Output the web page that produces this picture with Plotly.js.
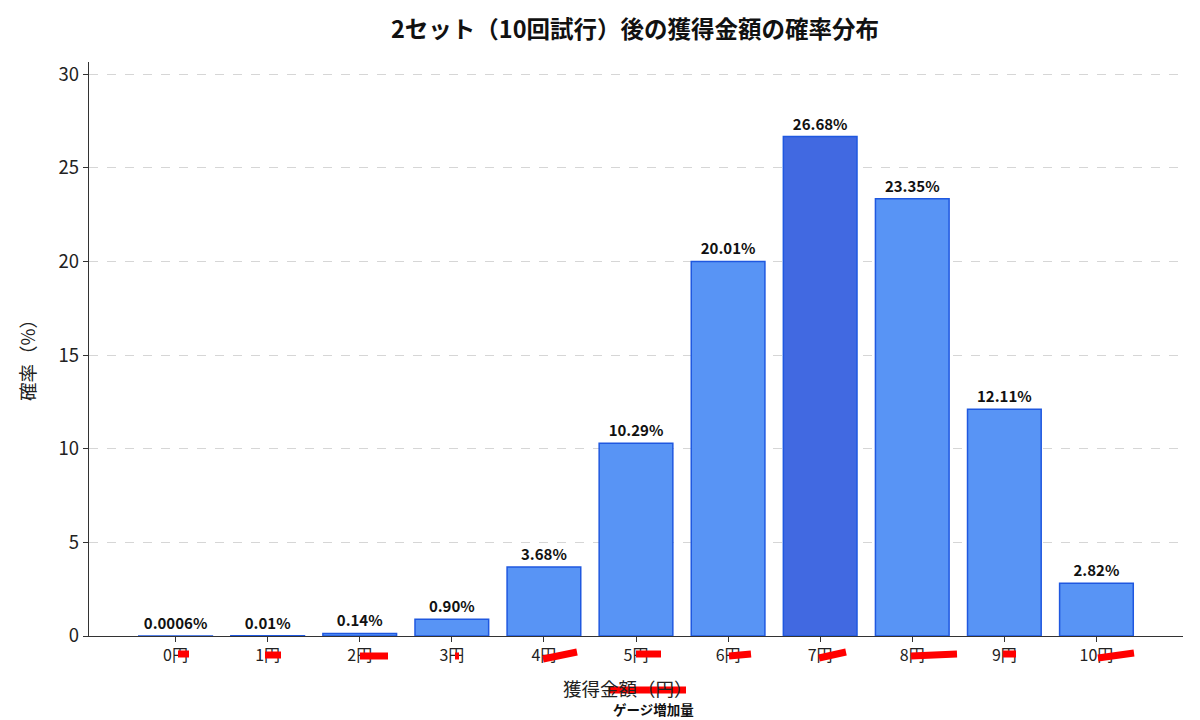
<!DOCTYPE html>
<html>
<head>
<meta charset="utf-8">
<script src="https://cdn.plot.ly/plotly-3.0.1.min.js"></script>
<style>html,body{margin:0;padding:0;background:#fff;}#chart{width:1200px;height:720px;}</style>
</head>
<body>
<div id="chart"></div>
<script>
// ---- data ----
const amounts = [0, 1, 2, 3, 4, 5, 6, 7, 8, 9, 10];
const tickLabels = ["0円", "1円", "2円", "3円", "4円", "5円", "6円", "7円", "8円", "9円", "10円"];
const probs = [0.0006, 0.01, 0.14, 0.90, 3.68, 10.29, 20.01, 26.68, 23.35, 12.11, 2.82];
const probLabels = ["0.0006%", "0.01%", "0.14%", "0.90%", "3.68%", "10.29%", "20.01%", "26.68%", "23.35%", "12.11%", "2.82%"];
const yTicks = [0, 5, 10, 15, 20, 25, 30];
const highlightIndex = 7;

// ---- layout geometry ----
const W = 1200, H = 720;
const M = {l: 89, r: 17, t: 62, b: 84};
const PW = W - M.l - M.r, PH = H - M.t - M.b;
const px = x => (x - M.l) / PW;
const py = y => (H - M.b - y) / PH;

const FONT = '"Noto Sans CJK JP", "Noto Sans", sans-serif';
const light = '#5894f5', dark = '#4169e1', edge = '#1f58e0';
const colors = probs.map((_, i) => i === highlightIndex ? dark : light);

// hand-drawn red marker strokes (overlay decoration), pixel coords
const strokes = [
  [178, 654, 189, 654], [265, 655, 281, 655], [360, 656, 388, 656], [455, 656, 459, 656],
  [543, 659, 577, 652], [636, 654, 661, 654], [729, 656, 751, 654], [819, 658, 846, 652],
  [911, 656, 957, 654], [1003, 654, 1016, 654], [1098, 658, 1134, 653], [609, 690, 686, 690]
];
const shapes = strokes.map(s => ({
  type: 'line', xref: 'paper', yref: 'paper',
  x0: px(s[0]), y0: py(s[1]), x1: px(s[2]), y1: py(s[3]),
  line: {color: '#ff0000', width: 7}
}));

const trace = {
  type: 'bar',
  x: amounts,
  y: probs,
  width: 0.8,
  marker: {color: colors, line: {color: edge, width: 1.5}},
  text: probLabels,
  textposition: 'outside',
  constraintext: 'none',
  cliponaxis: false,
  textfont: {family: FONT, size: 15, color: '#111', weight: 'bold'},
  hoverinfo: 'none'
};

const layout = {
  width: W, height: H,
  margin: M,
  paper_bgcolor: '#fff', plot_bgcolor: '#fff',
  showlegend: false,
  font: {family: FONT, color: '#222'},
  title: {text: '<b>2セット（10回試行）後の獲得金額の確率分布</b>', xref: 'container', yref: 'container',
          x: 635 / W, xanchor: 'center', y: 1 - 30 / H, yanchor: 'middle',
          font: {family: FONT, size: 23.5, color: '#111'}},
  xaxis: {
    range: [-0.94, 10.94],
    tickvals: amounts, ticktext: tickLabels,
    ticks: 'outside', ticklen: 5, tickcolor: '#333', tickwidth: 1,
    showline: true, linecolor: '#333', linewidth: 1.2,
    showgrid: false, zeroline: false,
    tickfont: {family: FONT, size: 16, color: '#222'}
  },
  yaxis: {
    range: [0, 30.66],
    tickvals: yTicks,
    ticks: 'outside', ticklen: 5, tickcolor: '#333', tickwidth: 1,
    showline: true, linecolor: '#333', linewidth: 1.2,
    showgrid: true, gridcolor: '#d6d6d6', griddash: 'dash', gridwidth: 1,
    zeroline: false,
    tickfont: {family: FONT, size: 18.5, color: '#222'}
  },
  shapes: shapes,
  annotations: [
    {xref: 'paper', yref: 'paper', x: px(628), y: py(688), xanchor: 'center', yanchor: 'middle',
     text: '獲得金額（円）', showarrow: false, font: {family: FONT, size: 18.5, color: '#222'}},
    {xref: 'paper', yref: 'paper', x: px(27), y: py(356), xanchor: 'center', yanchor: 'middle', textangle: -90,
     text: '確率（%）', showarrow: false, font: {family: FONT, size: 18.5, color: '#222'}},
    {xref: 'paper', yref: 'paper', x: px(653), y: py(709), xanchor: 'center', yanchor: 'middle',
     text: '<b>ゲージ増加量</b>', showarrow: false, font: {family: FONT, size: 13.5, color: '#111'}}
  ]
};

Plotly.newPlot('chart', [trace], layout, {staticPlot: true, displayModeBar: false});
</script>
</body>
</html>
